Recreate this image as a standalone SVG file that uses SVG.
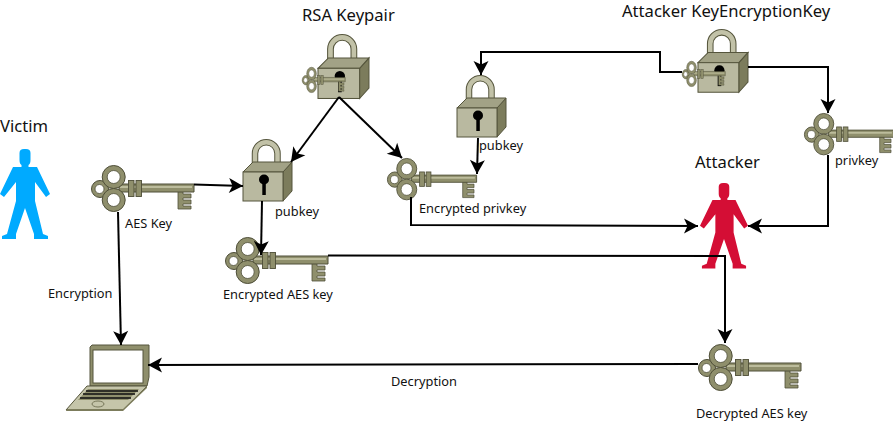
<svg xmlns="http://www.w3.org/2000/svg" xmlns:xlink="http://www.w3.org/1999/xlink" width="893" height="422" viewBox="0 0 893 422">
<style>
text{font-family:"Noto Sans","Open Sans",sans-serif;fill:#111}
.t{font-size:16.6px}
.s{font-size:12.8px}
.c{fill:none;stroke:#000;stroke-width:2}
.a{marker-end:url(#arr)}
</style>
<defs>
<marker id="arr" markerUnits="userSpaceOnUse" markerWidth="18" markerHeight="18" refX="14" refY="7.500" orient="auto" overflow="visible">
<path d="M0 0L14 7.500L0 15L3.500 7.500Z" fill="#000"/>
</marker>
<g id="key">
<path d="M87 26H92V29H100V33H92V35H100V39H92V41H100V44H87Z" fill="#8f8f6c" stroke="#4e4e38" stroke-width=".8"/>
<path d="M28 19H103V27H28Z" fill="#8f8f6c" stroke="#4e4e38" stroke-width="1"/>
<rect x="29" y="21" width="72" height="2" fill="#bcbc9c"/>
<rect x="37.500" y="15.500" width="5.500" height="16" fill="#8f8f6c" stroke="#4e4e38" stroke-width=".9"/>
<rect x="45" y="15.500" width="5.500" height="16" fill="#8f8f6c" stroke="#4e4e38" stroke-width=".9"/>
<circle cx="9" cy="24" r="8.500" fill="#8f8f6c" stroke="#4e4e38"/>
<circle cx="22.700" cy="12" r="11.500" fill="#8f8f6c" stroke="#4e4e38"/>
<circle cx="22.700" cy="35" r="11.500" fill="#8f8f6c" stroke="#4e4e38"/>
<circle cx="8.500" cy="24" r="4.500" fill="#fff" stroke="#4e4e38" stroke-width=".8"/>
<circle cx="22.700" cy="12" r="6.500" fill="#fff" stroke="#4e4e38" stroke-width=".8"/>
<circle cx="22.700" cy="35" r="6.500" fill="#fff" stroke="#4e4e38" stroke-width=".8"/>
</g>
<g id="lock">
<path d="M12 30V14.500A11.250 11.250 0 0 1 34.500 14.500V30" fill="none" stroke="#55553c" stroke-width="6.500"/>
<path d="M12 30V14.500A11.250 11.250 0 0 1 34.500 14.500V30" fill="none" stroke="#c2c2a8" stroke-width="4.500"/>
<path d="M40 33L49 23V52L40 62Z" fill="#7c7c5c" stroke="#55553c"/>
<path d="M0 33L10 23H49L40 33Z" fill="#a2a286" stroke="#55553c"/>
<rect x="0" y="33" width="40" height="29" fill="#b9b9a0" stroke="#55553c"/>
<circle cx="21" cy="40.500" r="5" fill="#000"/>
<rect x="19.300" y="41" width="3.500" height="15" fill="#000"/>
</g>
<path id="person" d="M19.500 153Q19.500 149 24 149H26Q30.500 149 30.500 153V160Q30.500 164 28.500 165V167L37 167L50 194L46 197L35 182V201L43 234L48 236V239H34V234L25 208L16 234V239H2V236L7 234L16 201V182L4 197L0 194L13 167L21.500 167V165Q19.500 164 19.500 160Z"/>
</defs>

<g id="victim"><use xlink:href="#person" href="#person" fill="#00aaff"/><text class="t" x="0" y="132">Victim</text></g>
<g id="attacker"><use href="#person" fill="#d40e35" transform="translate(724 183) scale(.96 .95) translate(-25 -149)"/><text class="t" x="695" y="168">Attacker</text></g>
<g id="rsa-keypair">
<use href="#lock" transform="translate(318 34) scale(1.04)"/>
<use href="#key" transform="translate(302 67) scale(.42 .55)"/>
<text class="t" x="302" y="21">RSA Keypair</text>
</g>
<g id="attacker-kek">
<use href="#lock" transform="translate(698 29) scale(1.02)"/>
<use href="#key" transform="translate(682 61) scale(.42 .55)"/>
<text class="t" x="622" y="17">Attacker KeyEncryptionKey</text>
</g>
<g id="aes-key"><use href="#key" transform="translate(91 165)"/><text class="s" x="125" y="228">AES Key</text></g>
<g id="pubkey-1"><use href="#lock" transform="translate(243 139)"/><text class="s" x="275" y="216">pubkey</text></g>
<g id="encrypted-aes-key"><use href="#key" transform="translate(225 237)"/><text class="s" x="223" y="299">Encrypted AES key</text></g>
<g id="pubkey-2"><use href="#lock" transform="translate(457 75)"/><text class="s" x="479" y="150">pubkey</text></g>
<g id="encrypted-privkey"><use href="#key" transform="translate(387 158) scale(.87 .9)"/><text class="s" x="419" y="213">Encrypted privkey</text></g>
<g id="privkey"><use href="#key" transform="translate(804 113) scale(.87 .9)"/><text class="s" x="835" y="165">privkey</text></g>
<g id="decrypted-aes-key"><use href="#key" transform="translate(698 344)"/><text class="s" x="696" y="418">Decrypted AES key</text></g>
<g id="laptop">
<path d="M90 347L92 345H149V377L147 386H90Z" fill="#8f8f6c" stroke="#55553c"/>
<rect x="93" y="350" width="50" height="33" fill="#fff" stroke="#55553c"/>
<path d="M87 386H147L123 410H66Z" fill="#c5c5aa" stroke="#55553c"/>
<path d="M123 411H66L67 409H123L147 386V388Z" fill="#7c7c5c"/>
<path d="M88 389H139L128 400H78Z" fill="#8f8f6c"/>
<path d="M86 391H138M83 394H135M80 398H131" stroke="#111" stroke-width="1.500" fill="none"/>
<ellipse cx="98" cy="404" rx="6" ry="3" fill="none" stroke="#77775a"/>
</g>
<text class="s" x="48" y="298">Encryption</text>
<text class="s" x="391" y="386">Decryption</text>

<g id="connectors">
<path class="c a" d="M194 184.500L243 186"/>
<path class="c a" d="M262 201L261 255"/>
<path class="c a" d="M339 97L291 162"/>
<path class="c a" d="M339 97L402 158"/>
<path class="c a" d="M118 212L121 345"/>
<path class="c a" d="M328 255.500L725 256V343"/>
<path class="c a" d="M411 197V225L698 226"/>
<path class="c a" d="M478 138L477 174"/>
<path class="c a" d="M682 72H660V52H481V75"/>
<path class="c a" d="M748 67H828V113"/>
<path class="c a" d="M828 155V226H748"/>
<path class="c a" d="M698 364L148 365"/>
</g>
</svg>
